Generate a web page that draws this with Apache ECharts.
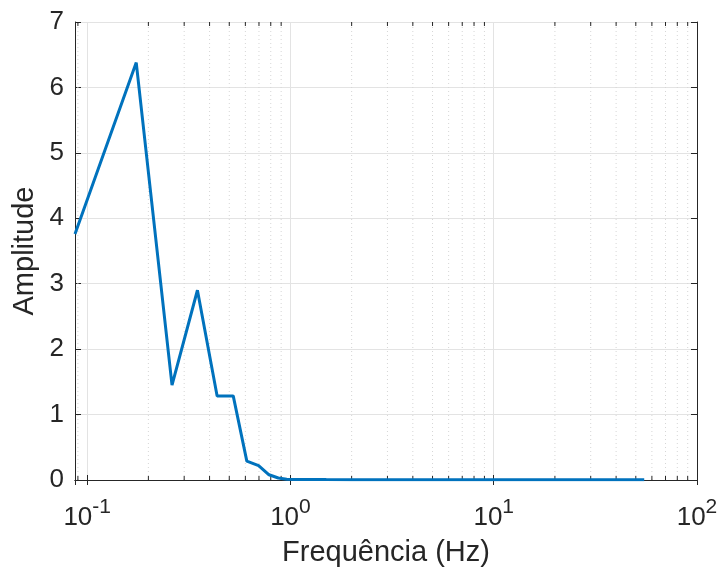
<!DOCTYPE html>
<html>
<head>
<meta charset="utf-8">
<script src="https://cdn.jsdelivr.net/npm/echarts@6/dist/echarts.min.js"></script>
<style>
  html, body { margin: 0; padding: 0; background: #fff; }
  #chart { width: 721px; height: 572px; }
</style>
</head>
<body>
<div id="chart"></div>
<script>
// Frequency bins (Hz) and spectrum amplitude
const freq = [0.0871, 0.1743, 0.2614, 0.3486, 0.4357, 0.5229, 0.6100, 0.6971, 0.7843, 0.8714,
              0.9586, 1.0457, 1.1329, 1.2200, 1.3071, 1.5, 2, 3, 5, 8, 13, 20, 30, 45, 55];
const amplitude = [3.76, 6.38, 1.45, 2.90, 1.285, 1.285, 0.288, 0.22, 0.08, 0.03,
                   0.012, 0.006, 0.006, 0.008, 0.008, 0.006, 0.004, 0.004, 0.004, 0.004, 0.004, 0.004, 0.004, 0.004, 0.004];

// Axis ranges and ticks
const xMin = 0.0871, xMax = 100;
const yTicks = [0, 1, 2, 3, 4, 5, 6, 7];
const minorX = [0.09, 0.2, 0.3, 0.4, 0.5, 0.6, 0.7, 0.8, 0.9,
                2, 3, 4, 5, 6, 7, 8, 9,
                20, 30, 40, 50, 60, 70, 80, 90];

const ink = '#262626';
const font = '"Liberation Sans", Arial, Helvetica, sans-serif';

const chart = echarts.init(document.getElementById('chart'));

function powLabel(v) {
  const e = Math.log10(v);
  if (Math.abs(e - Math.round(e)) > 1e-6) return '';
  return '{b|10}{s|' + Math.round(e) + '}';
}

const axisLineStyle = { show: true, lineStyle: { color: ink, width: 1 } };

chart.setOption({
  animation: false,
  backgroundColor: '#fff',
  grid: { left: 75, right: 24, top: 22, bottom: 89, containLabel: false },
  xAxis: [
    {
      type: 'log', logBase: 10, min: xMin, max: xMax, position: 'bottom',
      axisLine: axisLineStyle,
      axisTick: { show: true, inside: true, length: 5, lineStyle: { color: ink } },
      splitLine: { show: true, lineStyle: { color: '#e3e3e3', width: 1 } },
      axisLabel: {
        show: true, margin: 17, formatter: powLabel, showMinLabel: false,
        rich: {
          b: { fontSize: 26, fontFamily: font, color: ink, verticalAlign: 'bottom' },
          s: { fontSize: 21, fontFamily: font, color: ink, verticalAlign: 'bottom', padding: [0, 0, 13, 0] }
        }
      },
      name: 'Frequência (Hz)', nameLocation: 'middle', nameGap: 58,
      nameTextStyle: { fontSize: 29, fontFamily: font, color: ink }
    },
    {
      type: 'log', logBase: 10, min: xMin, max: xMax, position: 'top',
      axisLine: axisLineStyle,
      axisTick: { show: true, inside: true, length: 5, lineStyle: { color: ink } },
      splitLine: { show: false },
      axisLabel: { show: false }
    }
  ],
  yAxis: [
    {
      type: 'value', min: yTicks[0], max: yTicks[yTicks.length - 1], interval: 1, position: 'left',
      axisLine: axisLineStyle,
      axisTick: { show: true, inside: true, length: 6, lineStyle: { color: ink } },
      splitLine: { show: true, lineStyle: { color: '#e3e3e3', width: 1 } },
      axisLabel: { fontSize: 26, fontFamily: font, color: ink, margin: 11 },
      name: 'Amplitude', nameLocation: 'middle', nameGap: 36, nameRotate: 90,
      nameMoveOverlap: false,
      nameTextStyle: { fontSize: 29, fontFamily: font, color: ink }
    },
    {
      type: 'value', min: yTicks[0], max: yTicks[yTicks.length - 1], interval: 1, position: 'right',
      axisLine: axisLineStyle,
      axisTick: { show: true, inside: true, length: 6, lineStyle: { color: ink } },
      splitLine: { show: false },
      axisLabel: { show: false }
    }
  ],
  series: [
    {
      // dotted minor grid lines and inward minor ticks on the log axis
      type: 'custom',
      xAxisIndex: 0, yAxisIndex: 0,
      silent: true, z: 1,
      data: minorX.map(v => [v, 0]),
      renderItem: function (params, api) {
        const x = api.value(0);
        const bot = api.coord([x, yTicks[0]]);
        const top = api.coord([x, yTicks[yTicks.length - 1]]);
        return {
          type: 'group',
          children: [
            { type: 'line', shape: { x1: bot[0], y1: bot[1], x2: top[0], y2: top[1] },
              style: { stroke: '#d6d6d6', lineWidth: 1, lineDash: [1, 3] } },
            { type: 'line', shape: { x1: bot[0], y1: bot[1], x2: bot[0], y2: bot[1] - 4 },
              style: { stroke: ink, lineWidth: 1 } },
            { type: 'line', shape: { x1: top[0], y1: top[1], x2: top[0], y2: top[1] + 4 },
              style: { stroke: ink, lineWidth: 1 } }
          ]
        };
      }
    },
    {
      type: 'line',
      xAxisIndex: 0, yAxisIndex: 0,
      data: freq.map((f, i) => [f, amplitude[i]]),
      showSymbol: false, symbol: 'none',
      lineStyle: { color: '#0072BD', width: 3 },
      z: 5
    }
  ]
});
</script>
</body>
</html>
